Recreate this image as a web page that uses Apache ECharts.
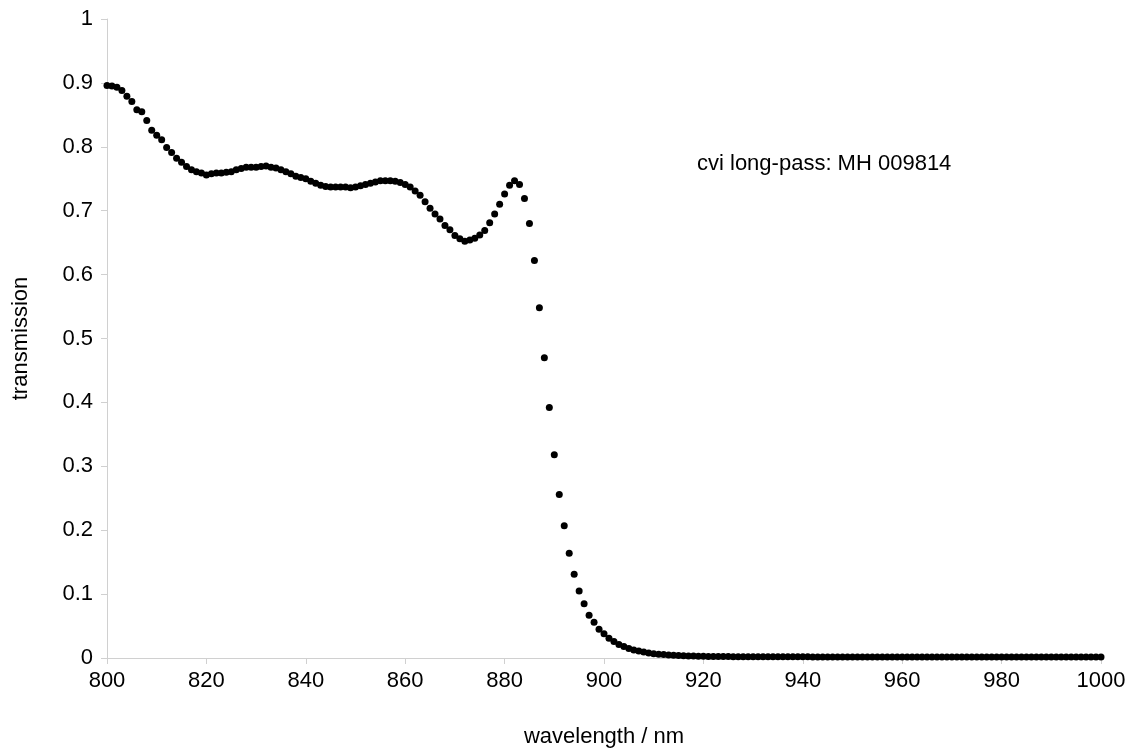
<!DOCTYPE html>
<html>
<head>
<meta charset="utf-8">
<script src="https://cdn.jsdelivr.net/npm/echarts@6/dist/echarts.min.js"></script>
<style>
html,body{margin:0;padding:0;background:#fff;}
#chart{width:1133px;height:749px;}
</style>
</head>
<body>
<div id="chart"></div>
<script>
// wavelength samples (nm)
const wavelengths = [
800,801,802,803,804,805,806,807,808,809,810,811,812,813,814,815,816,817,818,819,
820,821,822,823,824,825,826,827,828,829,830,831,832,833,834,835,836,837,838,839,
840,841,842,843,844,845,846,847,848,849,850,851,852,853,854,855,856,857,858,859,
860,861,862,863,864,865,866,867,868,869,870,871,872,873,874,875,876,877,878,879,
880,881,882,883,884,885,886,887,888,889,890,891,892,893,894,895,896,897,898,899,
900,901,902,903,904,905,906,907,908,909,910,911,912,913,914,915,916,917,918,919,
920,921,922,923,924,925,926,927,928,929,930,931,932,933,934,935,936,937,938,939,
940,941,942,943,944,945,946,947,948,949,950,951,952,953,954,955,956,957,958,959,
960,961,962,963,964,965,966,967,968,969,970,971,972,973,974,975,976,977,978,979,
980,981,982,983,984,985,986,987,988,989,990,991,992,993,994,995,996,997,998,999,
1000
];
// transmission values
const transmission = [
0.896,0.895,0.893,0.888,0.879,0.871,0.858,0.855,0.841,0.826,0.818,0.811,0.799,0.791,0.782,0.776,0.769,0.764,0.761,0.759,
0.756,0.758,0.759,0.759,0.760,0.761,0.764,0.766,0.768,0.768,0.768,0.769,0.770,0.768,0.767,0.764,0.761,0.758,0.754,0.752,
0.750,0.746,0.743,0.740,0.738,0.737,0.737,0.737,0.737,0.736,0.737,0.739,0.741,0.743,0.745,0.747,0.747,0.747,0.746,0.744,
0.741,0.737,0.731,0.724,0.714,0.704,0.695,0.687,0.677,0.670,0.661,0.656,0.652,0.654,0.657,0.662,0.669,0.681,0.695,0.710,
0.726,0.740,0.747,0.741,0.719,0.680,0.622,0.548,0.470,0.392,0.318,0.256,0.207,0.164,0.131,0.105,0.085,0.067,0.056,0.045,
0.038,0.031,0.026,0.021,0.018,0.015,0.0125,0.011,0.0094,0.0078,0.0068,0.006,0.0054,0.0048,0.0043,0.0039,0.0035,0.0032,0.003,0.0028,
0.0026,0.0025,0.0024,0.0023,0.0022,0.0022,0.0021,0.0021,0.002,0.002,0.002,0.002,0.0019,0.0019,0.0019,0.0019,0.0018,0.0018,0.0018,0.0018,
0.0018,0.0018,0.0017,0.0017,0.0017,0.0017,0.0017,0.0017,0.0017,0.0016,0.0016,0.0016,0.0016,0.0016,0.0016,0.0016,0.0016,0.0016,0.0016,0.0016,
0.0016,0.0015,0.0015,0.0015,0.0015,0.0015,0.0015,0.0015,0.0015,0.0015,0.0015,0.0015,0.0015,0.0015,0.0015,0.0015,0.0015,0.0015,0.0015,0.0015,
0.0015,0.0015,0.0015,0.0015,0.0015,0.0015,0.0015,0.0015,0.0015,0.0015,0.0015,0.0015,0.0015,0.0015,0.0015,0.0015,0.0015,0.0015,0.0015,0.0015,
0.0015
];
const xTitle = 'wavelength / nm';
const yTitle = 'transmission';
const annotation = 'cvi long-pass: MH 009814';

const pts = wavelengths.map((w, i) => [w, transmission[i]]);
const font = 'Liberation Sans';
const axisGray = '#d0d0d0';

const chart = echarts.init(document.getElementById('chart'), null, {renderer: 'canvas'});
chart.setOption({
  animation: false,
  backgroundColor: '#ffffff',
  grid: {left: 107, right: 32, top: 19, bottom: 91, containLabel: false, outerBoundsMode: 'none'},
  xAxis: {
    type: 'value', min: 800, max: 1000, interval: 20,
    name: xTitle, nameLocation: 'middle', nameGap: 68,
    nameTextStyle: {fontFamily: font, fontSize: 22, color: '#000'},
    axisLine: {show: true, lineStyle: {color: axisGray, width: 1}},
    axisTick: {show: true, length: 6, inside: false, lineStyle: {color: axisGray}},
    axisLabel: {fontFamily: font, fontSize: 22, color: '#000', margin: 12,
      formatter: v => String(v)},
    splitLine: {show: false}
  },
  yAxis: {
    type: 'value', min: 0, max: 1, interval: 0.1,
    name: yTitle, nameLocation: 'middle', nameGap: 75, nameRotate: 90,
    nameTextStyle: {fontFamily: font, fontSize: 22, color: '#000'},
    axisLine: {show: true, lineStyle: {color: axisGray, width: 1}},
    axisTick: {show: true, length: 6, inside: false, lineStyle: {color: axisGray}},
    axisLabel: {fontFamily: font, fontSize: 22, color: '#000', margin: 14,
      formatter: v => String(Math.round(v * 10) / 10)},
    splitLine: {show: false}
  },
  graphic: [{
    type: 'text', left: 697, top: 153,
    style: {text: annotation, fontFamily: font, fontSize: 22, fill: '#000'}
  }],
  series: [{
    type: 'scatter',
    data: pts,
    symbol: 'circle',
    symbolSize: 7,
    itemStyle: {color: '#000', opacity: 1},
    clip: false
  }]
});
</script>
</body>
</html>
